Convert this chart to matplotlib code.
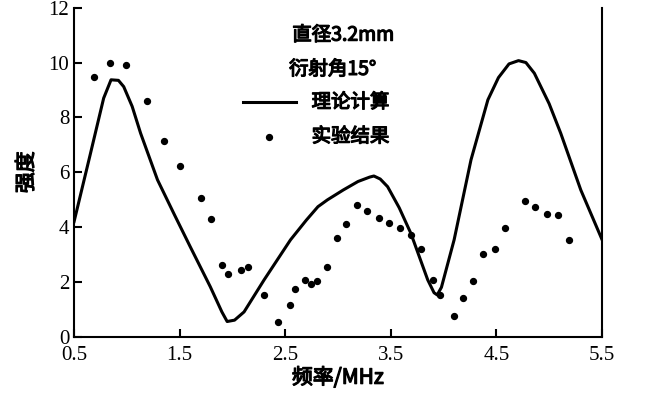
import matplotlib
matplotlib.use("Agg")
import matplotlib.pyplot as plt
import matplotlib.patheffects as pe

# theory curve
theory_f = [0.5, 0.65, 0.78, 0.85, 0.92, 0.97, 1.05, 1.13, 1.29, 1.45, 1.60, 1.79,
            1.90, 1.95, 2.02, 2.11, 2.30, 2.55, 2.70, 2.81, 2.90, 3.05, 3.19, 3.30,
            3.34, 3.40, 3.47, 3.58, 3.69, 3.85, 3.91, 3.94, 3.98, 4.10, 4.26, 4.42,
            4.52, 4.62, 4.71, 4.78, 4.86, 5.00, 5.11, 5.30, 5.5]
theory_i = [4.2, 6.6, 8.7, 9.37, 9.35, 9.12, 8.4, 7.42, 5.72, 4.45, 3.28, 1.82,
            0.9, 0.55, 0.6, 0.9, 2.07, 3.53, 4.25, 4.74, 4.99, 5.35, 5.66, 5.82,
            5.86, 5.75, 5.47, 4.7, 3.77, 2.07, 1.6, 1.52, 1.8, 3.53, 6.45, 8.64,
            9.45, 9.95, 10.07, 10.0, 9.61, 8.5, 7.42, 5.35, 3.55]

# experimental points
exp_f = [0.69, 0.84, 0.99, 1.19, 1.35, 1.50, 1.70, 1.80, 1.90, 1.96, 2.08, 2.15,
         2.30, 2.43, 2.55, 2.59, 2.69, 2.74, 2.80, 2.90, 2.99, 3.08, 3.18, 3.27,
         3.39, 3.48, 3.59, 3.69, 3.79, 3.90, 3.97, 4.10, 4.18, 4.28, 4.37, 4.49,
         4.58, 4.77, 4.87, 4.98, 5.08, 5.19]
exp_i = [9.49, 9.98, 9.92, 8.58, 7.12, 6.23, 5.05, 4.30, 2.62, 2.28, 2.43, 2.55,
         1.52, 0.55, 1.16, 1.73, 2.07, 1.92, 2.04, 2.53, 3.59, 4.11, 4.81, 4.59,
         4.34, 4.14, 3.96, 3.71, 3.19, 2.07, 1.52, 0.76, 1.42, 2.03, 3.02, 3.20,
         3.96, 4.95, 4.72, 4.48, 4.44, 3.53]

xticks = [0.5, 1.5, 2.5, 3.5, 4.5, 5.5]
yticks = [0, 2, 4, 6, 8, 10, 12]

cjk = ["Noto Sans CJK SC", "Noto Sans CJK JP"]
serif = "Liberation Serif"
bold = [pe.withStroke(linewidth=0.9, foreground="black")]

fig = plt.figure(figsize=(6.5, 4.07), dpi=100)
ax = fig.add_axes([0.114, 0.173, 0.812, 0.808])
ax.plot(theory_f, theory_i, color="black", lw=2.2, solid_joinstyle="round")
ax.scatter(exp_f, exp_i, s=18, color="black", zorder=3)

ax.set_xlim(0.5, 5.5)
ax.set_ylim(0, 12)
ax.set_xticks(xticks)
ax.set_yticks(yticks)
ax.set_xticklabels([str(v) for v in xticks], fontfamily=serif, fontsize=15)
ax.set_yticklabels([str(v) for v in yticks], fontfamily=serif, fontsize=15)
ax.tick_params(direction="in", length=6, width=1.5, top=False)
ax.tick_params(axis="x", pad=7)
ax.spines["top"].set_visible(False)
for s in ("left", "right", "bottom"):
    ax.spines[s].set_linewidth(1.5)

ax.set_xlabel("频率/MHz", fontfamily=cjk, fontsize=15, labelpad=1, path_effects=bold)
ax.set_ylabel("强度", fontfamily=cjk, fontsize=15, labelpad=8, path_effects=bold)

txt = dict(fontfamily=cjk, fontsize=14, path_effects=bold)
ax.text(3.05, 10.8, "直径3.2mm", ha="center", **txt)
ax.text(2.95, 9.55, "衍射角15°", ha="center", **txt)
ax.plot([2.1, 2.6], [8.55, 8.55], color="black", lw=2.2)
ax.text(2.75, 8.55, "理论计算", va="center", **txt)
ax.scatter([2.35], [7.3], s=18, color="black")
ax.text(2.75, 7.3, "实验结果", va="center", **txt)

fig.savefig("out.png", dpi=100)
